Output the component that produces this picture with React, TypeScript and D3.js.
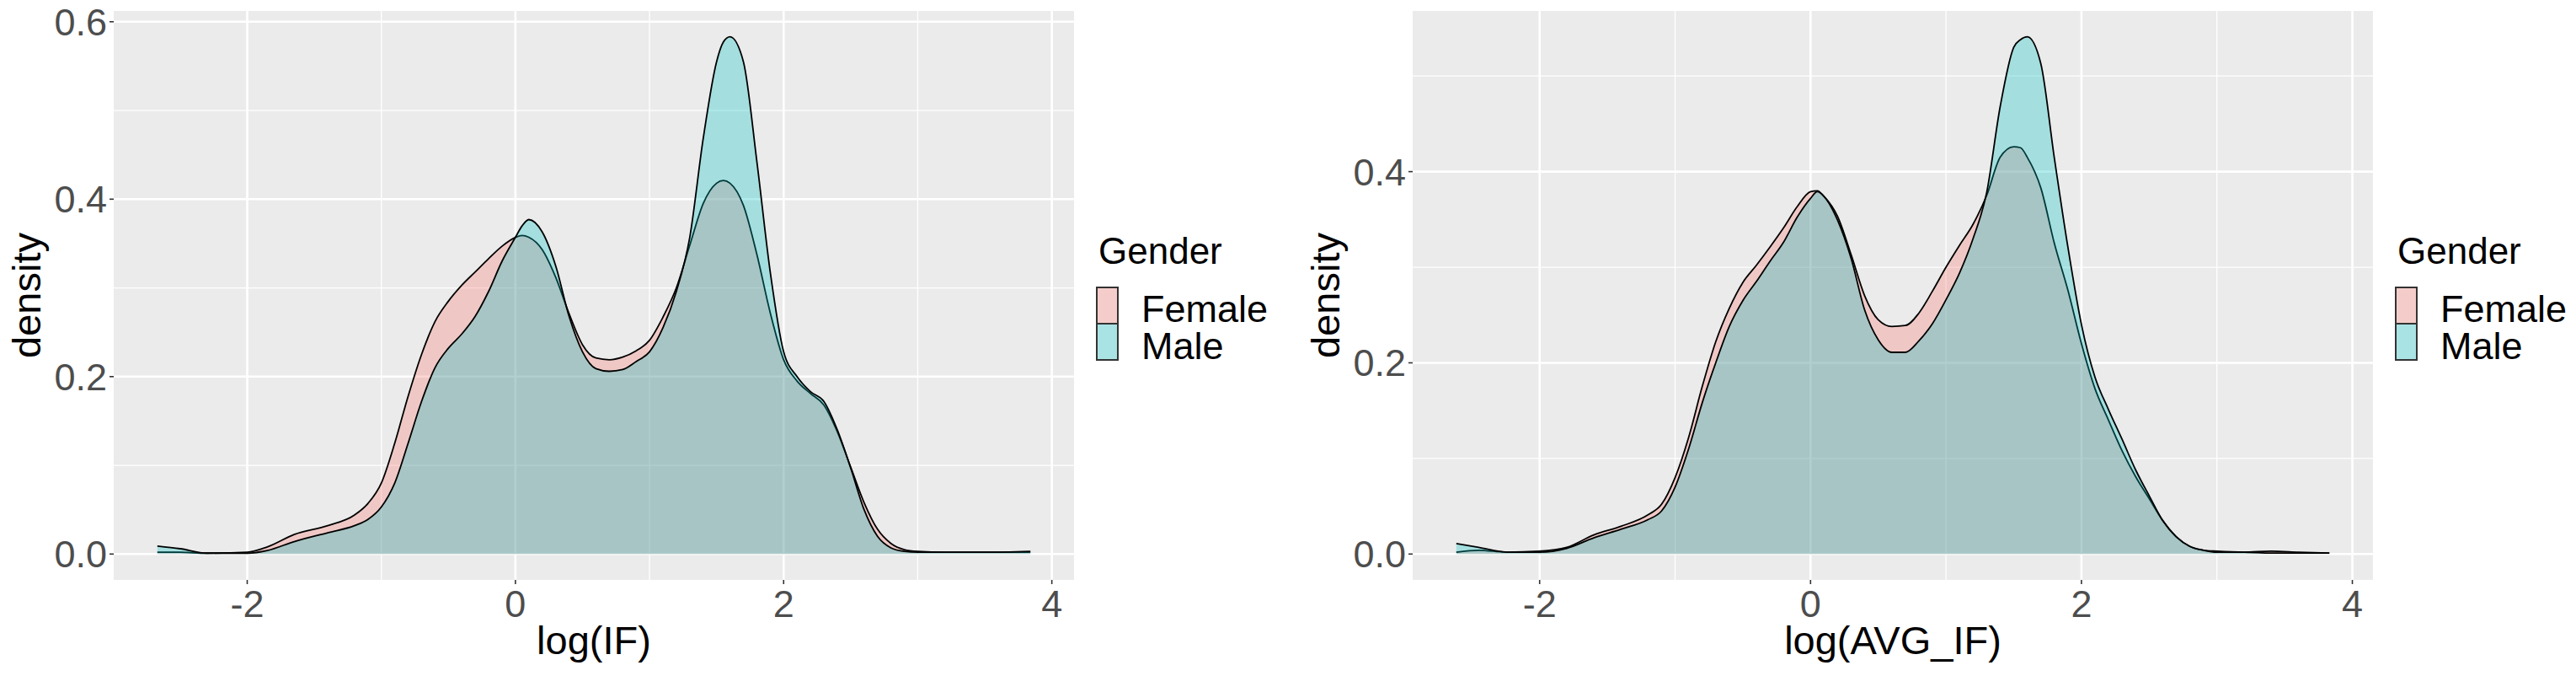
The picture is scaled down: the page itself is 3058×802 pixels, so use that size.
import * as d3 from 'd3';

// density curves (log(IF) and log(AVG_IF))
const ifX = [-2.67, -2.5, -2.3, -2.0, -1.85, -1.65, -1.4, -1.2, -1.1, -1.0, -0.9, -0.8, -0.7, -0.6, -0.5, -0.4, -0.3, -0.2, -0.1, 0, 0.05, 0.1, 0.2, 0.3, 0.4, 0.5, 0.6, 0.7, 0.8, 0.9, 1.0, 1.1, 1.2, 1.3, 1.4, 1.5, 1.55, 1.6, 1.7, 1.8, 1.9, 2.0, 2.1, 2.2, 2.3, 2.4, 2.5, 2.6, 2.7, 2.8, 2.9, 3.0, 3.2, 3.5, 3.84];
const ifFemale = [0.002, 0.002, 0.001, 0.002, 0.008, 0.022, 0.032, 0.044, 0.057, 0.080, 0.125, 0.178, 0.225, 0.262, 0.285, 0.303, 0.318, 0.333, 0.347, 0.357, 0.359, 0.357, 0.343, 0.312, 0.271, 0.236, 0.221, 0.219, 0.222, 0.229, 0.241, 0.267, 0.300, 0.348, 0.395, 0.418, 0.421, 0.418, 0.393, 0.338, 0.272, 0.219, 0.195, 0.181, 0.168, 0.138, 0.098, 0.058, 0.028, 0.012, 0.005, 0.003, 0.002, 0.002, 0.002];
const ifMale = [0.009, 0.006, 0.001, 0.001, 0.004, 0.014, 0.024, 0.032, 0.039, 0.053, 0.080, 0.125, 0.172, 0.210, 0.232, 0.248, 0.268, 0.296, 0.330, 0.357, 0.370, 0.377, 0.363, 0.325, 0.268, 0.228, 0.209, 0.206, 0.208, 0.217, 0.228, 0.255, 0.296, 0.357, 0.468, 0.555, 0.577, 0.583, 0.555, 0.443, 0.318, 0.228, 0.200, 0.183, 0.172, 0.140, 0.097, 0.050, 0.020, 0.007, 0.003, 0.002, 0.002, 0.002, 0.003];

const avgX = [-2.615, -2.45, -2.24, -2.0, -1.8, -1.6, -1.4, -1.2, -1.1, -1.0, -0.9, -0.8, -0.7, -0.6, -0.5, -0.4, -0.3, -0.2, -0.1, 0, 0.05, 0.1, 0.2, 0.3, 0.4, 0.5, 0.6, 0.7, 0.8, 0.9, 1.0, 1.1, 1.2, 1.3, 1.4, 1.5, 1.55, 1.6, 1.7, 1.8, 1.9, 2.0, 2.1, 2.2, 2.3, 2.4, 2.5, 2.6, 2.7, 2.8, 2.9, 3.0, 3.2, 3.4, 3.6, 3.83];
const avgFemale = [0.002, 0.004, 0.002, 0.003, 0.007, 0.020, 0.029, 0.041, 0.052, 0.080, 0.122, 0.175, 0.222, 0.257, 0.284, 0.302, 0.321, 0.341, 0.363, 0.379, 0.380, 0.374, 0.353, 0.313, 0.270, 0.245, 0.238, 0.239, 0.252, 0.275, 0.300, 0.323, 0.345, 0.375, 0.415, 0.426, 0.425, 0.415, 0.383, 0.325, 0.276, 0.220, 0.173, 0.140, 0.108, 0.081, 0.058, 0.035, 0.018, 0.008, 0.004, 0.003, 0.002, 0.003, 0.002, 0.001];
const avgMale = [0.011, 0.007, 0.002, 0.002, 0.006, 0.017, 0.026, 0.036, 0.045, 0.070, 0.110, 0.158, 0.200, 0.238, 0.265, 0.285, 0.306, 0.326, 0.352, 0.372, 0.379, 0.374, 0.349, 0.309, 0.255, 0.224, 0.211, 0.211, 0.223, 0.241, 0.266, 0.294, 0.330, 0.378, 0.468, 0.530, 0.538, 0.541, 0.513, 0.414, 0.321, 0.240, 0.185, 0.151, 0.120, 0.088, 0.061, 0.035, 0.018, 0.008, 0.004, 0.002, 0.002, 0.001, 0.001, 0.001];

const xTicks = [-2, 0, 2, 4];
const xMinorTicks = [-3, -1, 1, 3];
const ifYTicks = [0, 0.2, 0.4, 0.6];
const avgYTicks = [0, 0.2, 0.4];
const yMinorTicks = [0.1, 0.3, 0.5];
const genders = ['Female', 'Male'];
const genderColors = ['#F8766D', '#00BFC4'];

const FONT = '"Liberation Sans", Arial, Helvetica, sans-serif';
const PANEL_BG = '#EBEBEB';

interface PanelProps {
  left: number;
  xs: number[];
  series: number[][];
  yTicks: number[];
  xLabel: string;
}

function DensityPanel({ left, xs, series, yTicks, xLabel }: PanelProps) {
  const top = 13;
  const bottom = 688;
  const right = left + 1140;

  // ggplot-like 5% expansion on both axes
  const [xmin, xmax] = d3.extent(xs) as [number, number];
  const xr = xmax - xmin;
  const x = d3.scaleLinear().domain([xmin - 0.05 * xr, xmax + 0.05 * xr]).range([left, right]);
  const ymax = d3.max(series.flat()) || 0;
  const y = d3.scaleLinear().domain([-0.05 * ymax, ymax * 1.05]).range([bottom, top]);

  const inX = (v: number) => v >= x.domain()[0] && v <= x.domain()[1];
  const inY = (v: number) => v >= y.domain()[0] && v <= y.domain()[1];

  const area = d3.area<number>()
    .x((_, i) => x(xs[i]))
    .y0(y(0))
    .y1(d => y(d))
    .curve(d3.curveMonotoneX);
  const line = d3.line<number>()
    .x((_, i) => x(xs[i]))
    .y(d => y(d))
    .curve(d3.curveMonotoneX);

  const legendX = right + 27;

  return (
    <g>
      <rect x={left} y={top} width={right - left} height={bottom - top} fill={PANEL_BG} />
      {/* minor grid */}
      {yMinorTicks.filter(inY).map(t => (
        <line key={'ym' + t} x1={left} x2={right} y1={y(t)} y2={y(t)} stroke="#fff" strokeWidth={1.3} />
      ))}
      {xMinorTicks.filter(inX).map(t => (
        <line key={'xm' + t} x1={x(t)} x2={x(t)} y1={top} y2={bottom} stroke="#fff" strokeWidth={1.3} />
      ))}
      {/* major grid */}
      {yTicks.map(t => (
        <line key={'yg' + t} x1={left} x2={right} y1={y(t)} y2={y(t)} stroke="#fff" strokeWidth={2.6} />
      ))}
      {xTicks.map(t => (
        <line key={'xg' + t} x1={x(t)} x2={x(t)} y1={top} y2={bottom} stroke="#fff" strokeWidth={2.6} />
      ))}

      {/* densities */}
      {series.map((s, i) => (
        <g key={genders[i]}>
          <path d={area(s) || ''} fill={genderColors[i]} fillOpacity={0.3} />
          <path d={line(s) || ''} fill="none" stroke="#000" strokeWidth={1.8} />
        </g>
      ))}

      {/* y axis */}
      {yTicks.map(t => (
        <g key={'yt' + t}>
          <line x1={left - 5} x2={left} y1={y(t)} y2={y(t)} stroke="#333" strokeWidth={1.6} />
          <text x={left - 8} y={y(t) + 16} textAnchor="end" fontSize={45} fill="#4D4D4D" fontFamily={FONT}>
            {t.toFixed(1)}
          </text>
        </g>
      ))}
      <text
        transform={`translate(${left - 104},${(top + bottom) / 2}) rotate(-90)`}
        textAnchor="middle"
        dominantBaseline="central"
        fontSize={47}
        fill="#000"
        fontFamily={FONT}
      >
        density
      </text>

      {/* x axis */}
      {xTicks.map(t => (
        <g key={'xt' + t}>
          <line x1={x(t)} x2={x(t)} y1={bottom} y2={bottom + 5} stroke="#333" strokeWidth={1.6} />
          <text x={x(t)} y={bottom + 44} textAnchor="middle" fontSize={45} fill="#4D4D4D" fontFamily={FONT}>
            {t}
          </text>
        </g>
      ))}
      <text x={(left + right) / 2} y={bottom + 88} textAnchor="middle" fontSize={47} fill="#000" fontFamily={FONT}>
        {xLabel}
      </text>

      {/* legend */}
      <text x={legendX + 2} y={313} fontSize={44} fill="#000" fontFamily={FONT}>Gender</text>
      {genders.map((g, i) => (
        <g key={'lg' + g}>
          <rect x={legendX} y={341 + i * 43} width={25} height={43} fill="#F2F2F2" />
          <rect
            x={legendX}
            y={341 + i * 43}
            width={25}
            height={43}
            fill={genderColors[i]}
            fillOpacity={0.3}
            stroke="#333"
            strokeWidth={2}
          />
          <text x={legendX + 53} y={382 + i * 44} fontSize={45} fill="#000" fontFamily={FONT}>{g}</text>
        </g>
      ))}
    </g>
  );
}

export default function App() {
  return (
    <svg
      width={3058}
      height={802}
      style={{ position: 'absolute', left: 0, top: 0, background: '#fff' }}
    >
      <rect width={3058} height={802} fill="#fff" />
      <DensityPanel left={135} xs={ifX} series={[ifFemale, ifMale]} yTicks={ifYTicks} xLabel="log(IF)" />
      <DensityPanel left={1677} xs={avgX} series={[avgFemale, avgMale]} yTicks={avgYTicks} xLabel="log(AVG_IF)" />
    </svg>
  );
}
